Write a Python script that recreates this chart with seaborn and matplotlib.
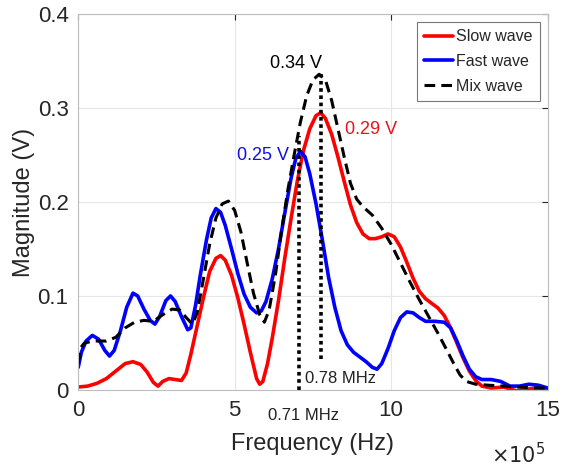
import numpy as np
import pandas as pd
import matplotlib
matplotlib.use("Agg")
import matplotlib.pyplot as plt
import seaborn as sns

# frequency in units of 1e5 Hz, magnitude in V
slow_freq = [0, 0.3, 0.6, 0.9, 1.2, 1.5, 1.75, 2.0, 2.2, 2.4, 2.55, 2.7, 2.9,
             3.1, 3.3, 3.45, 3.6, 3.8, 4.0, 4.2, 4.4, 4.55, 4.7, 4.9, 5.1, 5.3,
             5.5, 5.7, 5.8, 5.9, 6.05, 6.2, 6.4, 6.6, 6.8, 7.0, 7.2, 7.4, 7.6,
             7.75, 7.9, 8.1, 8.3, 8.5, 8.7, 8.9, 9.1, 9.3, 9.5, 9.7, 9.9, 10.1,
             10.3, 10.5, 10.7, 10.9, 11.1, 11.3, 11.5, 11.7, 11.9, 12.1, 12.3,
             12.5, 12.7, 12.9, 13.2, 13.6, 14.0, 14.4, 14.7, 15]
slow_mag = [0.003, 0.004, 0.007, 0.012, 0.020, 0.028, 0.030, 0.027, 0.019, 0.008,
            0.004, 0.009, 0.012, 0.011, 0.010, 0.018, 0.038, 0.068, 0.098, 0.126,
            0.140, 0.143, 0.138, 0.122, 0.098, 0.070, 0.040, 0.012, 0.006, 0.009,
            0.028, 0.055, 0.095, 0.140, 0.182, 0.222, 0.255, 0.278, 0.292, 0.295,
            0.289, 0.272, 0.248, 0.222, 0.197, 0.178, 0.166, 0.161, 0.161, 0.163,
            0.166, 0.163, 0.152, 0.136, 0.119, 0.105, 0.097, 0.092, 0.087, 0.079,
            0.066, 0.050, 0.034, 0.020, 0.010, 0.004, 0.002, 0.003, -0.001, 0.001,
            0.002, 0.001]

fast_freq = [0, 0.1, 0.25, 0.45, 0.65, 0.85, 1.0, 1.15, 1.35, 1.55, 1.75, 1.9,
             2.1, 2.3, 2.45, 2.6, 2.8, 2.95, 3.1, 3.3, 3.5, 3.6, 3.75, 3.9, 4.1,
             4.25, 4.4, 4.55, 4.7, 4.9, 5.1, 5.3, 5.5, 5.7, 5.85, 6.0, 6.2, 6.4,
             6.6, 6.8, 6.95, 7.1, 7.25, 7.4, 7.6, 7.8, 8.0, 8.2, 8.4, 8.6, 8.8,
             9.0, 9.2, 9.4, 9.55, 9.7, 9.9, 10.1, 10.3, 10.5, 10.7, 10.9, 11.1,
             11.4, 11.7, 11.9, 12.1, 12.3, 12.5, 12.7, 12.9, 13.2, 13.5, 13.8,
             14.1, 14.4, 14.7, 15]
fast_mag = [0.024, 0.040, 0.052, 0.058, 0.054, 0.042, 0.036, 0.042, 0.063, 0.088,
            0.103, 0.100, 0.086, 0.074, 0.070, 0.078, 0.095, 0.100, 0.094, 0.078,
            0.064, 0.066, 0.090, 0.122, 0.160, 0.183, 0.193, 0.189, 0.175, 0.150,
            0.124, 0.102, 0.088, 0.082, 0.084, 0.094, 0.118, 0.150, 0.188, 0.225,
            0.246, 0.254, 0.248, 0.230, 0.198, 0.160, 0.120, 0.088, 0.063, 0.048,
            0.040, 0.035, 0.030, 0.024, 0.022, 0.028, 0.044, 0.063, 0.077, 0.083,
            0.082, 0.077, 0.073, 0.073, 0.072, 0.066, 0.052, 0.036, 0.022, 0.014,
            0.011, 0.011, 0.009, 0.004, 0.004, 0.006, 0.005, 0.002]

mix_freq = [0, 0.08, 0.2, 0.5, 0.9, 1.2, 1.5, 1.8, 2.1, 2.4, 2.7, 3.0, 3.25,
            3.45, 3.65, 3.8, 4.0, 4.2, 4.4, 4.6, 4.8, 5.0, 5.2, 5.4, 5.6, 5.8,
            5.95, 6.1, 6.3, 6.5, 6.7, 6.9, 7.1, 7.3, 7.5, 7.7, 7.9, 8.1, 8.3,
            8.5, 8.7, 8.9, 9.1, 9.4, 9.7, 10.0, 10.3, 10.6, 10.9, 11.2, 11.5,
            11.8, 12.0, 12.2, 12.4, 12.7, 13.1, 13.6, 14.1, 14.6, 15]
mix_mag = [0.028, 0.045, 0.050, 0.052, 0.052, 0.056, 0.066, 0.072, 0.074, 0.073,
           0.080, 0.086, 0.085, 0.077, 0.070, 0.082, 0.118, 0.155, 0.183, 0.198,
           0.201, 0.191, 0.168, 0.135, 0.103, 0.080, 0.072, 0.085, 0.122, 0.170,
           0.213, 0.250, 0.285, 0.313, 0.330, 0.336, 0.330, 0.308, 0.278, 0.248,
           0.220, 0.203, 0.195, 0.186, 0.172, 0.155, 0.135, 0.115, 0.096, 0.078,
           0.060, 0.041, 0.028, 0.016, 0.009, 0.006, 0.005, 0.004, 0.003, 0.002,
           0.002]

marker_freq = [7.05, 7.75]
marker_low = [0.0, 0.033]
marker_high = [0.27, 0.336]

sns.set_style("white")
plt.rcParams["font.family"] = ["Liberation Sans", "DejaVu Sans"]

fig = plt.figure(figsize=(5.71, 4.72), dpi=100)
ax = fig.add_axes([0.137, 0.174, 0.822, 0.796])

sns.lineplot(x=slow_freq, y=slow_mag, ax=ax, color="#ff0000", lw=2.6,
             label="Slow wave", sort=False)
sns.lineplot(x=fast_freq, y=fast_mag, ax=ax, color="#0000ff", lw=2.6,
             label="Fast wave", sort=False)
sns.lineplot(x=mix_freq, y=mix_mag, ax=ax, color="black", lw=2.2,
             linestyle=(0, (3.5, 2)), label="Mix wave", sort=False)

for f, lo, hi in zip(marker_freq, marker_low, marker_high):
    ax.plot([f, f], [lo, hi], color="black", lw=2.6, linestyle=(0, (1, 1)))

ax.text(6.95, 0.348, "0.34 V", fontsize=13, color="black", ha="center", va="center")
ax.text(9.35, 0.277, "0.29 V", fontsize=13, color="#e8141c", ha="center", va="center")
ax.text(5.9, 0.25, "0.25 V", fontsize=13, color="#1010e0", ha="center", va="center")
ax.text(7.25, 0.012, "0.78 MHz", fontsize=12, color="#222222", ha="left", va="center")
ax.text(7.2, -0.027, "0.71 MHz", fontsize=12, color="#222222", ha="center",
        va="center", clip_on=False)

ax.set_xlim(0, 15)
ax.set_ylim(0, 0.4)
ax.set_xticks([0, 5, 10, 15])
ax.set_yticks([0, 0.1, 0.2, 0.3, 0.4])
ax.set_yticklabels(["0", "0.1", "0.2", "0.3", "0.4"])
ax.tick_params(labelsize=16, colors="#262626", direction="in", length=4,
               top=True, right=True, pad=7)
ax.grid(True, color="#e6e6e6", lw=0.8)
for s in ax.spines.values():
    s.set_color("#bdbdbd")
    s.set_linewidth(0.8)

ax.set_xlabel("Frequency (Hz)", fontsize=17, color="#262626", labelpad=9)
ax.set_ylabel("Magnitude (V)", fontsize=17, color="#262626", labelpad=2)
fig.text(0.955, 0.01, r"$\times10^5$", fontsize=15, color="#262626",
         ha="right", va="bottom")

leg = ax.legend(loc="upper right", fontsize=11.5, frameon=True, fancybox=False,
                handlelength=1.8, handletextpad=0.2, borderpad=0.45,
                labelspacing=0.6, borderaxespad=0.5)
leg.get_frame().set_edgecolor("#555555")
leg.get_frame().set_linewidth(0.8)

fig.savefig("out.png", dpi=100)
